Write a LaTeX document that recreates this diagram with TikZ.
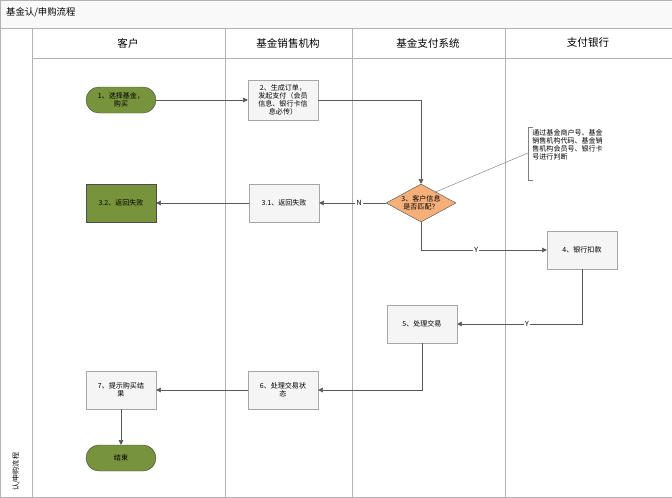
\documentclass[tikz,border=0pt]{standalone}
\usepackage{fontspec}
\setmainfont{Noto Sans CJK SC}
\usetikzlibrary{positioning,shapes.geometric,arrows.meta}
\definecolor{leaf}{HTML}{77933C}
\definecolor{peach}{HTML}{F5B07A}
\definecolor{edge}{HTML}{595959}
\begin{document}
\begin{tikzpicture}[x=0.03cm,y=-0.03cm,
	font=\fontsize{6}{7}\selectfont
	,proc/.style={draw=gray!70, fill=gray!8, minimum width=70*0.03cm, minimum height=38*0.03cm, align=center, inner sep=1pt}
	,term/.style={draw=gray!60!black, fill=leaf, rounded corners=13*0.03cm, minimum width=70*0.03cm, minimum height=26*0.03cm, align=center, inner sep=1pt}
	,check/.style={diamond, draw=gray!70!black, fill=peach, aspect=1.8, minimum width=70*0.03cm, minimum height=38*0.03cm, inner sep=0pt, align=center}
	,flow/.style={draw=edge, -{Triangle[length=4pt,width=4pt]}}
	,lbl/.style={fill=white, inner sep=1pt}
	,lane/.style={draw=gray!60}
]
	% frame and lanes
	\useasboundingbox (0,0) rectangle (672,497);
	\draw[lane, fill=gray!5] (0,0) rectangle (672,28);
	\node[anchor=west] (title) at (2,12) {\fontsize{8}{9}\selectfont 基金认/申购流程};
	\draw[lane] (0,28) rectangle (32,497);
	\node[rotate=90, anchor=west] (side) at (16,495) {认/申购流程};
	\draw[lane] (32,28) rectangle (672,58);
	\foreach \x in {225,352,505} \draw[lane] (\x,28) -- (\x,497);
	\draw[lane] (32,58) -- (672,58);
	\draw[lane] (0,0) rectangle (672,497);
	\node (h1) at (128,43) {\fontsize{9}{10}\selectfont 客户};
	\node (h2) at (288,43) {\fontsize{9}{10}\selectfont 基金销售机构};
	\node (h3) at (428,43) {\fontsize{9}{10}\selectfont 基金支付系统};
	\node (h4) at (588,43) {\fontsize{9}{10}\selectfont 支付银行};

	% steps
	\node[term] (buy) at (121,100) {1、选择基金，\\购买};
	\node[proc, minimum height=40*0.03cm] (order) at (283,100) {2、生成订单，\\发起支付（会员\\信息、银行卡信\\息必传）};
	\node[check] (match) at (421,203) {3、客户信息\\是否匹配？};
	\node[proc] (fail1) at (284,203) {3.1、返回失败};
	\node[term, rounded corners=0pt, minimum height=38*0.03cm] (fail2) at (121,203) {3.2、返回失败};
	\node[proc] (debit) at (582,250) {4、银行扣款};
	\node[proc] (deal) at (422,324) {5、处理交易};
	\node[proc] (state) at (283,390) {6、处理交易状\\态};
	\node[proc] (result) at (121,390) {7、提示购买结\\果};
	\node[term] (finish) at (121,458) {结束};

	% note
	\node[anchor=north west, align=left, inner sep=1pt] (note) at (531,128) {通过基金商户号、基金\\销售机构代码、基金销\\售机构会员号、银行卡\\号进行判断};
	\draw[gray] (533,127) -- (528,127) -- (528,180) -- (533,180);
	\coordinate (hook) at (528,153);
	\draw[gray] (match.north east) ++(-4,-1) -- (hook);

	% connectors
	\draw[flow] (buy) -- (order);
	\draw[flow] (order.east) -| (match.north);
	\draw[flow] (match) -- node[lbl, pos=0.4] {N} (fail1);
	\draw[flow] (fail1) -- (fail2);
	\draw[flow] (match.south) |- node[lbl, pos=0.72] {Y} (debit.west);
	\draw[flow] (debit.south) |- node[lbl, pos=0.72] {Y} (deal.east);
	\draw[flow] (deal.south) |- (state.east);
	\draw[flow] (state) -- (result);
	\draw[flow] (result) -- (finish);
\end{tikzpicture}
\end{document}
